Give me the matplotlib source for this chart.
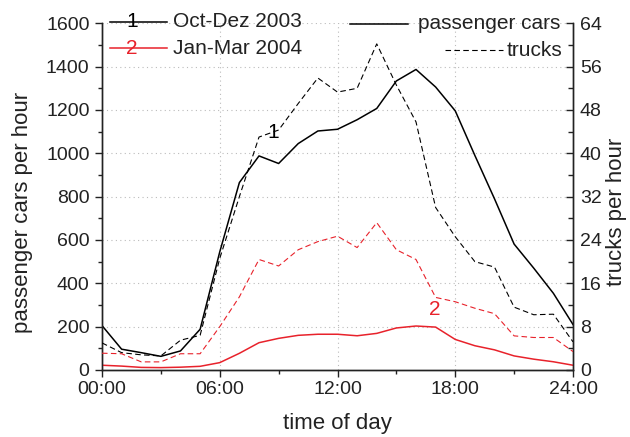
import matplotlib
matplotlib.use("Agg")
import matplotlib.pyplot as plt
import numpy as np
from matplotlib.ticker import MultipleLocator, FixedLocator

plt.rcParams['font.family'] = ['Liberation Sans', 'DejaVu Sans']

hours = list(range(25))
xtick_pos = [0, 6, 12, 18, 24]
xtick_labels = ["00:00", "06:00", "12:00", "18:00", "24:00"]

# passenger cars per hour
cars_2003 = [205, 96, 80, 63, 88, 188, 545, 865, 988, 953, 1045, 1103, 1111, 1155, 1207,
             1334, 1387, 1306, 1196, 990, 790, 581, 470, 354, 210]
cars_2004 = [22, 18, 12, 11, 13, 17, 34, 77, 126, 146, 160, 165, 165, 158, 169,
             194, 203, 198, 141, 112, 93, 65, 50, 38, 22]
# trucks per hour
trucks_2003 = [5.0, 3.2, 2.8, 2.6, 5.5, 6.4, 20.6, 32.0, 43.0, 44.3, 49.2, 53.9, 51.3, 52.0, 60.2,
               52.6, 45.8, 30.0, 24.6, 20.0, 19.0, 11.6, 10.2, 10.3, 5.2]
trucks_2004 = [3.1, 3.0, 1.5, 1.5, 3.0, 3.0, 8.0, 13.5, 20.4, 19.2, 22.2, 23.7, 24.7, 22.6, 27.2,
               22.2, 20.4, 13.4, 12.6, 11.4, 10.4, 6.3, 6.0, 6.0, 3.4]

RED = '#e8222b'
TXT = '#222222'

fig = plt.figure(figsize=(6.3, 4.37), dpi=100)
L, R, B, T = 102/630, 573/630, 1-370/437, 1-23.3/437
ax = fig.add_axes([L, B, R-L, T-B])
ax2 = ax.twinx()

ax.set_xlim(0, 24)
ax.set_ylim(0, 1600)
ax2.set_ylim(0, 64)

# grid
ax.set_axisbelow(True)
for y in range(200, 1601, 200):
    ax.axhline(y, color='#bbbbbb', lw=0.8, ls=(0, (1, 3)), zorder=0)
for x in [6, 12, 18]:
    ax.axvline(x, color='#bbbbbb', lw=0.8, ls=(0, (1, 3)), zorder=0)

ax.plot(hours, cars_2003, color='black', lw=1.1, zorder=3)
ax.plot(hours, cars_2004, color=RED, lw=1.1, zorder=3)
ax2.plot(hours, trucks_2003, color='black', lw=0.8, ls=(0, (5, 3)), zorder=3)
ax2.plot(hours, trucks_2004, color=RED, lw=0.8, ls=(0, (5, 3)), zorder=3)

# inline curve labels
ax.text(8.73, 1094, "1", color='black', fontsize=15, ha='center', va='center', zorder=4)
ax.text(16.94, 280, "2", color=RED, fontsize=15, ha='center', va='center', zorder=4)

# spines
for a in (ax, ax2):
    a.spines['top'].set_visible(False)
    for s in ('left', 'right', 'bottom'):
        a.spines[s].set_linewidth(1.0)
        a.spines[s].set_color('#222222')

ax.set_xticks(xtick_pos)
ax.set_xticklabels(xtick_labels)
ax.xaxis.set_minor_locator(FixedLocator([3, 9, 15, 21]))
ax.yaxis.set_major_locator(MultipleLocator(200))
ax.yaxis.set_minor_locator(MultipleLocator(100))
ax2.yaxis.set_major_locator(MultipleLocator(8))
ax2.yaxis.set_minor_locator(MultipleLocator(4))

ax.tick_params(axis='both', which='major', direction='out', length=5, width=1.0,
               labelsize=14, colors=TXT, pad=4)
ax.tick_params(axis='both', which='minor', direction='out', length=3, width=1.0, colors=TXT)
ax.tick_params(axis='x', which='major', pad=3)
ax.tick_params(axis='y', which='both', right=False)
ax2.tick_params(axis='y', which='major', direction='in', length=5, width=1.0,
                labelsize=14, colors=TXT, pad=5)
ax2.tick_params(axis='y', which='minor', direction='in', length=3.5, width=1.0, colors=TXT)

ax.set_xlabel("time of day", fontsize=16, color=TXT)
ax.set_ylabel("passenger cars per hour", fontsize=16, color=TXT)
ax2.set_ylabel("trucks per hour", fontsize=16, color=TXT)
ax.xaxis.set_label_coords(0.5, -0.125)
ax.yaxis.set_label_coords(-0.147, 0.455)
ax2.yaxis.set_label_coords(1.071, 0.455)

# legends drawn by hand (axes fraction coords)
def ax_x(px):
    return (px - 102) / 471
def ax_y(py):
    return (370 - py) / 347

tr = ax.transAxes
ax.plot([ax_x(110), ax_x(167)], [ax_y(21.5)] * 2, color='black', lw=1.1, transform=tr, clip_on=False)
ax.text(ax_x(132), ax_y(21.5), "1", color='black', fontsize=15, ha='center', va='center', transform=tr)
ax.text(ax_x(173), ax_y(21.5), "Oct-Dez 2003", color=TXT, fontsize=15, ha='left', va='center', transform=tr)
ax.plot([ax_x(110), ax_x(167)], [ax_y(48)] * 2, color=RED, lw=1.1, transform=tr, clip_on=False)
ax.text(ax_x(132), ax_y(48), "2", color=RED, fontsize=15, ha='center', va='center', transform=tr)
ax.text(ax_x(173), ax_y(48), "Jan-Mar 2004", color=TXT, fontsize=15, ha='left', va='center', transform=tr)

ax.plot([ax_x(350), ax_x(408)], [ax_y(23.3)] * 2, color='black', lw=1.1, transform=tr, clip_on=False)
ax.text(ax_x(560), ax_y(23.3), "passenger cars", color=TXT, fontsize=15, ha='right', va='center', transform=tr)
ax.plot([ax_x(445), ax_x(503)], [ax_y(50)] * 2, color='black', lw=0.8, ls=(0, (5, 3)), transform=tr, clip_on=False)
ax.text(ax_x(562), ax_y(50), "trucks", color=TXT, fontsize=15, ha='right', va='center', transform=tr)

fig.savefig("out.png", dpi=100)
